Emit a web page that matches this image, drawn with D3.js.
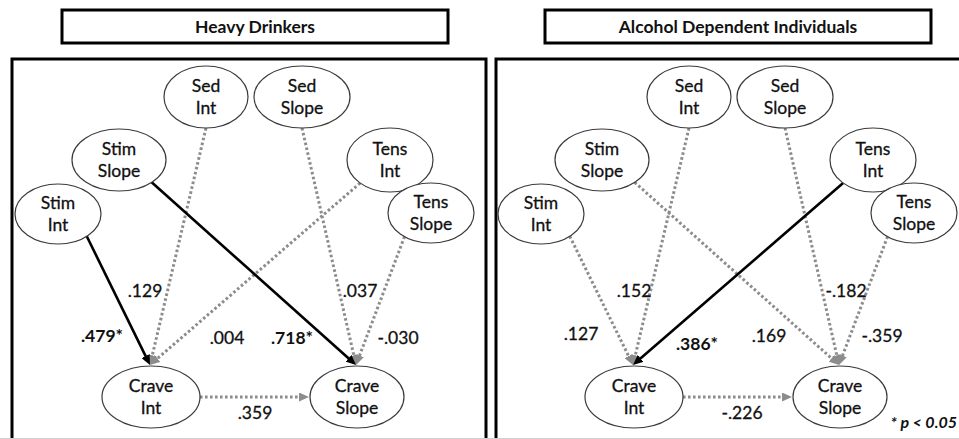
<!DOCTYPE html>
<html>
<head>
<meta charset="utf-8">
<script src="https://cdn.jsdelivr.net/npm/d3@7"></script>
<style>
  body { margin: 0; background: #fff; }
  svg { display: block; font-family: Lato, "Open Sans", sans-serif; }
</style>
</head>
<body>
<script>
// groups (one panel each)
const groups = ["Heavy Drinkers", "Alcohol Dependent Individuals"];

// latent growth factors
const nodeNames = ["Stim Int", "Stim Slope", "Sed Int", "Sed Slope", "Tens Int", "Tens Slope", "Crave Int", "Crave Slope"];

// structural paths
const pathFrom = ["Stim Int", "Sed Int", "Tens Int", "Stim Slope", "Sed Slope", "Tens Slope", "Crave Int"];
const pathTo   = ["Crave Int", "Crave Int", "Crave Int", "Crave Slope", "Crave Slope", "Crave Slope", "Crave Slope"];

// standardized coefficients
const heavyBeta = [0.479, 0.129, 0.004, 0.718, 0.037, -0.030, 0.359];
const heavySig  = [true, false, false, true, false, false, false];
const depBeta   = [0.127, 0.152, 0.386, 0.169, -0.182, -0.359, -0.226];
const depSig    = [false, false, true, false, false, false, false];

const sigNote = "* p < 0.05";

// ---- layout (panel-local pixels) ----
const nodeLayout = {
  "Stim Int":    { x: 58,  y: 214, rx: 43, ry: 30, a: 48 },
  "Stim Slope":  { x: 119, y: 160, rx: 47, ry: 31, a: 46 },
  "Sed Int":     { x: 206, y: 97,  rx: 42, ry: 31, a: 90 },
  "Sed Slope":   { x: 302, y: 97,  rx: 48, ry: 31, a: 90 },
  "Tens Int":    { x: 390, y: 160, rx: 43, ry: 32, a: 134 },
  "Tens Slope":  { x: 431, y: 213, rx: 43, ry: 30, a: 128 },
  "Crave Int":   { x: 151, y: 397, rx: 49, ry: 31, a: 0 },
  "Crave Slope": { x: 357, y: 397, rx: 47, ry: 31, a: 180 }
};
const labelLayout = [
  [[102, 335], [145, 290], [227, 337], [292, 337], [360, 290], [398, 337], [255, 412]],
  [[98, 333],  [151, 290], [214, 343], [286, 335], [363, 290], [399, 335], [259, 412]]
];

const W = 959, H = 439;
const svg = d3.select("body").append("svg").attr("width", W).attr("height", H);

const xPanel = d3.scaleBand().domain(groups).range([0, 966]);
const fmt = v => (v < 0 ? "-" : "") + d3.format(".3f")(Math.abs(v)).slice(1);

const defs = svg.append("defs");
[["arrowBlack", "#000"], ["arrowGray", "#8c8c8c"]].forEach(([id, c]) => {
  defs.append("marker")
      .attr("id", id)
      .attr("viewBox", "0 0 10 9")
      .attr("refX", 4).attr("refY", 4.5)
      .attr("markerWidth", 10).attr("markerHeight", 9)
      .attr("markerUnits", "userSpaceOnUse")
      .attr("orient", "auto")
    .append("path")
      .attr("d", "M0,0 L10,4.5 L0,9 Z")
      .attr("fill", c);
});

function anchor(n) {
  const L = nodeLayout[n];
  const r = L.a * Math.PI / 180;
  return [L.x + L.rx * Math.cos(r), L.y + L.ry * Math.sin(r)];
}
function target(from, to) {
  const L = nodeLayout[to];
  if (from.startsWith("Crave")) return [L.x - L.rx - 1, L.y];
  return [L.x - 1, L.y - L.ry - 1];
}

const panels = [
  { beta: heavyBeta, sig: heavySig },
  { beta: depBeta, sig: depSig }
];

groups.forEach((g, gi) => {
  const ox = xPanel(g);
  const p = svg.append("g").attr("transform", `translate(${ox},0)`);

  // title box
  p.append("rect")
      .attr("x", 62).attr("y", 10).attr("width", 386).attr("height", 33)
      .attr("fill", "#fff").attr("stroke", "#000").attr("stroke-width", 3);
  p.append("text")
      .attr("x", 255).attr("y", 33)
      .attr("text-anchor", "middle")
      .attr("font-size", 17.5).attr("font-weight", 700)
      .attr("fill", "#111")
      .text(g);

  // panel frame
  p.append("rect")
      .attr("x", 12 + gi * 1).attr("y", 59).attr("width", 474).attr("height", 400)
      .attr("fill", "none").attr("stroke", "#000").attr("stroke-width", 3);

  const edges = pathFrom.map((f, i) => ({
    from: f, to: pathTo[i],
    beta: panels[gi].beta[i], sig: panels[gi].sig[i],
    lab: labelLayout[gi][i]
  }));

  // paths
  p.selectAll("line.path").data(edges).enter().append("line")
      .attr("class", "path")
      .each(function(d) {
        const s = anchor(d.from), t = target(d.from, d.to);
        const dx = t[0] - s[0], dy = t[1] - s[1], len = Math.hypot(dx, dy);
        d3.select(this)
          .attr("x1", s[0]).attr("y1", s[1])
          .attr("x2", t[0] - dx / len * 6).attr("y2", t[1] - dy / len * 6);
      })
      .attr("stroke", d => d.sig ? "#000" : "#8c8c8c")
      .attr("stroke-width", d => d.sig ? 2.6 : 3)
      .attr("stroke-dasharray", d => d.sig ? null : "2.6,2.4")
      .attr("marker-end", d => d.sig ? "url(#arrowBlack)" : "url(#arrowGray)");

  // draw significant paths on top
  p.selectAll("line.path").filter(d => d.sig).raise();

  // nodes
  const nodes = p.selectAll("g.node").data(nodeNames).enter().append("g")
      .attr("class", "node")
      .attr("transform", d => `translate(${nodeLayout[d].x},${nodeLayout[d].y})`);
  nodes.append("ellipse")
      .attr("rx", d => nodeLayout[d].rx).attr("ry", d => nodeLayout[d].ry)
      .attr("fill", "#fff").attr("stroke", "#3a3a3a").attr("stroke-width", 1.2);
  nodes.each(function(d) {
    const parts = d.split(" ");
    const t = d3.select(this).append("text")
        .attr("text-anchor", "middle").attr("font-size", 17.5).attr("fill", "#111")
        .attr("stroke", "#111").attr("stroke-width", 0.3);
    t.append("tspan").attr("x", 0).attr("y", -5).text(parts[0]);
    t.append("tspan").attr("x", 0).attr("y", 17).text(parts[1]);
  });

  // coefficient labels
  p.selectAll("text.coef").data(edges).enter().append("text")
      .attr("class", "coef")
      .attr("x", d => d.lab[0]).attr("y", d => d.lab[1] + 7)
      .attr("text-anchor", "middle")
      .attr("font-size", 17.5)
      .attr("font-weight", d => d.sig ? 700 : 400)
      .attr("fill", "#111")
      .attr("stroke", "#111").attr("stroke-width", d => d.sig ? 0 : 0.3)
      .text(d => fmt(d.beta) + (d.sig ? "*" : ""));
});

svg.append("text")
    .attr("x", 957).attr("y", 428)
    .attr("text-anchor", "end")
    .attr("font-size", 16).attr("font-weight", 700).attr("font-style", "italic")
    .attr("fill", "#111")
    .text(sigNote);

svg.append("line")
    .attr("x1", 0).attr("x2", W).attr("y1", 438.5).attr("y2", 438.5)
    .attr("stroke", "#d0d0d0").attr("stroke-width", 1);
</script>
</body>
</html>
